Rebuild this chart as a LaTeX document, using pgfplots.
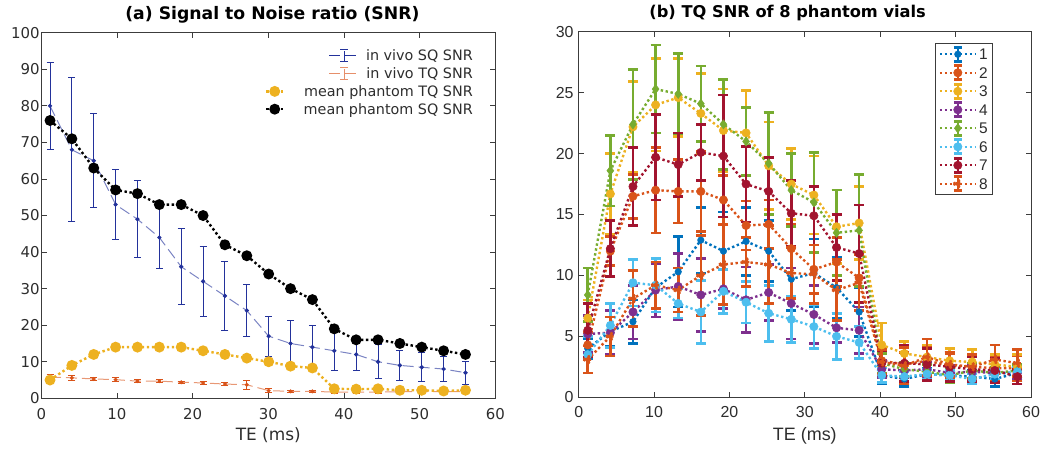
\documentclass[border=0pt]{standalone}
\usepackage{pgfplots}
\pgfplotsset{compat=1.18}
\usepackage{pgfplotstable}
\usepackage{fontspec}
\setmainfont{DejaVu Sans}
\newfontfamily\dejavu{DejaVu Sans}
\newfontfamily\arial{Liberation Sans}

\definecolor{axgray}{RGB}{60,60,60}
\definecolor{txtgray}{RGB}{45,45,45}
\definecolor{vivoblue}{RGB}{35,50,155}
\definecolor{vivoorange}{RGB}{217,83,25}
\definecolor{myyellow}{RGB}{237,177,32}
\definecolor{c1}{RGB}{0,114,189}
\definecolor{c2}{RGB}{217,83,25}
\definecolor{c3}{RGB}{237,177,32}
\definecolor{c4}{RGB}{126,47,142}
\definecolor{c5}{RGB}{119,172,48}
\definecolor{c6}{RGB}{77,190,238}
\definecolor{c7}{RGB}{162,20,47}
\definecolor{c8}{RGB}{217,83,25}

\pgfplotstableread{
x sq sqe tq tqe ptq psq
1.15 80 11.8 5.8 0.8 5.0 76
4.04 68 19.7 5.6 0.6 9.0 71
6.93 65 12.9 5.3 0.3 12.0 63
9.82 53 9.5 5.1 0.5 14.0 57
12.71 49 10.5 4.7 0.5 14.0 56
15.60 44 8.5 4.7 0.4 14.0 53
18.49 36 10.4 4.4 0.3 14.0 53
21.38 32 9.5 4.2 0.3 13.0 50
24.27 28 9.4 3.9 0.3 12.0 42
27.16 24 7.2 3.7 1.2 11.0 39
30.05 17 5.5 2.1 0.5 10.0 34
32.94 15 6.2 1.9 0.3 8.8 30
35.83 14 5.8 1.9 0.3 8.3 27
38.72 13 5.5 1.7 0.4 2.6 19
41.61 12 4.5 1.7 0.4 2.5 16
44.50 10 4.6 1.7 0.5 2.6 16
47.39 9 4.0 1.8 0.4 2.2 15
50.28 8.5 4.0 1.8 0.3 2.2 14
53.17 8 3.5 1.8 0.3 2.0 13
56.06 7 3.2 1.8 0.3 2.2 12
}\lefttab

\pgfplotstableread{
x a1 e1 a2 e2 a3 e3 a4 e4 a5 e5 a6 e6 a7 e7 a8 e8
1.2 4.0 0.8 4.3 1.0 6.5 1.5 5.2 1.5 8.4 2.2 3.5 1.5 5.5 2.2 3.1 1.1
4.2 5.4 1.2 12.0 1.2 16.7 3.3 5.3 1.8 18.6 2.9 5.9 1.8 12.2 2.3 5.0 1.6
7.2 6.2 1.8 16.5 1.8 22.2 3.7 7.0 2.2 22.4 4.5 9.4 1.9 17.3 3.2 8.1 2.3
10.2 9.0 2.0 17.0 3.5 24.0 3.8 8.8 2.2 25.3 3.6 9.2 2.2 19.7 3.5 9.2 1.9
13.2 10.3 2.9 16.9 2.6 24.6 3.2 9.1 2.7 24.9 3.3 7.7 1.2 19.1 2.6 8.8 1.8
16.2 12.9 2.7 16.9 3.3 23.3 3.3 8.4 3.0 24.1 3.1 7.0 2.6 20.1 2.3 10.0 3.3
19.2 12.0 3.2 16.2 2.0 21.9 3.4 8.9 1.6 22.4 3.7 8.7 1.8 19.8 5.0 10.9 3.3
22.2 12.8 2.8 14.1 2.0 21.7 3.5 8.0 2.7 21.0 2.8 7.8 1.7 17.5 3.1 11.1 2.0
25.2 12.0 2.5 14.2 2.0 19.0 3.6 8.6 2.3 19.2 4.2 6.9 2.3 16.9 2.8 10.9 3.2
28.2 9.7 2.6 12.2 2.0 17.5 2.9 7.7 2.9 17.0 3.0 6.4 1.9 15.1 2.7 10.2 2.1
31.2 10.2 2.8 10.5 2.0 16.6 3.2 6.8 2.4 16.0 4.1 5.8 1.8 14.9 2.4 10.1 2.4
34.2 9.0 2.5 11.1 2.0 14.0 3.0 5.7 1.2 13.5 3.5 5.0 1.9 12.3 2.7 8.8 2.5
37.2 7.0 2.0 9.8 2.0 14.3 3.0 5.5 1.9 13.7 4.6 4.5 1.3 11.8 4.0 9.4 2.3
40.2 1.8 0.7 3.0 1.0 4.3 1.8 2.3 0.7 2.8 0.8 1.8 0.6 2.8 1.0 2.9 1.0
43.2 1.5 0.6 2.7 1.0 3.6 1.0 2.2 0.6 2.3 0.6 1.7 0.4 2.8 1.5 2.6 1.5
46.2 1.9 0.5 3.0 1.2 3.3 1.0 2.3 0.6 2.1 0.6 1.9 0.4 2.7 1.3 3.3 1.5
49.2 1.8 0.5 2.6 1.0 3.0 1.0 2.0 0.6 1.8 0.6 1.8 0.4 2.5 1.2 2.7 1.0
52.2 1.7 0.5 2.5 0.9 2.9 1.0 2.1 0.5 2.2 0.6 1.5 0.4 2.3 1.0 2.5 1.0
55.2 1.5 0.6 2.4 1.0 2.7 0.8 2.0 0.5 2.0 0.5 1.9 0.4 2.2 1.0 3.1 1.2
58.2 2.0 0.6 2.4 1.0 2.5 1.0 2.0 0.5 2.2 0.5 2.1 0.4 1.7 0.6 2.8 1.1
}\righttab

\pgfplotsset{
  vial/.style={color=#1, line width=2.4bp, dash pattern=on 2.4bp off 2.6bp,
    mark=*, mark size=4.2bp, mark options={solid, fill=#1, draw=#1, line width=0.5bp},
    /pgfplots/error bars/y dir=both, /pgfplots/error bars/y explicit,
    /pgfplots/error bars/error bar style={solid, line width=2.6bp, color=#1},
    /pgfplots/error bars/error mark options={solid, rotate=90, line width=2.6bp, mark size=5bp, color=#1},
    legend image code/.code={
      \draw[solid, line width=2.6bp, color=#1] (18bp,-7bp)--(18bp,7bp) (14bp,7bp)--(22bp,7bp) (14bp,-7bp)--(22bp,-7bp);
      \draw[##1, mark repeat=2, mark phase=2] plot coordinates {(0bp,0bp)(18bp,0bp)(36bp,0bp)};
    }
  },
  myaxis/.style={scale only axis, xmin=0, xmax=60, ymin=0,
    xtick={0,10,...,60},
    axis line style={axgray, line width=0.8bp},
    tick style={axgray, line width=0.8bp}, major tick length=5.5bp,
    /pgf/number format/assume math mode=true,
  },
}

\begin{document}
\begin{tikzpicture}
\useasboundingbox (0bp,0bp) rectangle (1042bp,449bp);

% ---------------- (a)
\begin{axis}[myaxis,
  at={(41.3bp,50.7bp)}, anchor=south west, width=454bp, height=365.5bp,
  ymax=100, ytick={0,10,...,100},
  tick label style={font=\dejavu\fontsize{15}{17}\selectfont, text=txtgray},
  xticklabel style={yshift=-7bp},
  yticklabel style={inner xsep=1.5bp},
  xlabel={TE (ms)},
  xlabel style={font=\dejavu\fontsize{17}{19}\selectfont, text=txtgray, at={(axis description cs:0.5,-0.101)}, anchor=center},
  title={(a) Signal to Noise ratio (SNR)},
  title style={font=\dejavu\bfseries\fontsize{17.3}{19}\selectfont, at={(axis description cs:0.509,1)}, anchor=base, yshift=7bp},
  legend cell align=right,
  legend style={at={(axis description cs:0.953,0.962)}, anchor=north east, draw=none, fill=none, inner sep=0pt,
    font=\dejavu\fontsize{14.4}{17}\selectfont, text=txtgray, row sep=0pt,
    nodes={inner ysep=0pt, inner xsep=1bp, text height=14bp, text depth=3.8bp}},
]
\addplot[color=vivoblue!60!white, line width=1bp, dash pattern=on 11bp off 5bp,
  mark=*, mark size=1.6bp, mark options={solid, fill=vivoblue, draw=vivoblue},
  legend image code/.code={
    \path (0bp,0bp) (36bp,0bp);
    \draw[overlay, vivoblue, line width=1bp] (63bp,0bp)--(93bp,0bp) (78bp,-6bp)--(78bp,6bp) (74bp,6bp)--(82bp,6bp) (74bp,-6bp)--(82bp,-6bp);},
  error bars/.cd, y dir=both, y explicit,
  error bar style={solid, line width=1bp, color=vivoblue},
  error mark options={solid, rotate=90, line width=1bp, mark size=3.5bp, color=vivoblue}]
  table[x=x, y=sq, y error=sqe]{\lefttab};
\addlegendentry{in vivo SQ SNR}
\addplot[color=vivoorange!60!white, line width=1bp, dash pattern=on 11bp off 5bp,
  mark=*, mark size=1.4bp, mark options={solid, fill=vivoorange, draw=vivoorange},
  legend image code/.code={
    \path (0bp,0bp) (36bp,0bp);
    \draw[overlay, vivoorange!65!white, line width=1bp] (63bp,0bp)--(93bp,0bp) (78bp,-6bp)--(78bp,6bp) (74bp,6bp)--(82bp,6bp) (74bp,-6bp)--(82bp,-6bp);},
  error bars/.cd, y dir=both, y explicit,
  error bar style={solid, line width=1bp, color=vivoorange},
  error mark options={solid, rotate=90, line width=1bp, mark size=3.5bp, color=vivoorange}]
  table[x=x, y=tq, y error=tqe]{\lefttab};
\addlegendentry{in vivo TQ SNR}
\addplot[color=myyellow, line width=2.4bp, dash pattern=on 2.4bp off 2.6bp,
  mark=*, mark size=4.2bp, mark options={solid, fill=myyellow}]
  table[x=x, y=ptq]{\lefttab};
\addlegendentry{mean phantom TQ SNR}
\addplot[color=black, line width=2.4bp, dash pattern=on 2.4bp off 2.6bp,
  mark=*, mark size=4.2bp, mark options={solid, fill=black}]
  table[x=x, y=psq]{\lefttab};
\addlegendentry{mean phantom SQ SNR}
\end{axis}

% ---------------- (b)
\begin{axis}[myaxis,
  at={(578.7bp,51.7bp)}, anchor=south west, width=452.3bp, height=365.5bp,
  ymax=30, ytick={0,5,...,30},
  tick label style={font=\arial\fontsize{16}{18}\selectfont, text=txtgray},
  xticklabel style={yshift=-5.5bp},
  yticklabel style={inner xsep=5bp},
  xlabel={TE (ms)},
  xlabel style={font=\arial\fontsize{18}{20}\selectfont, text=txtgray, at={(axis description cs:0.5,-0.105)}, anchor=center},
  title={(b) TQ SNR of 8 phantom vials},
  title style={font=\dejavu\bfseries\fontsize{16.3}{18}\selectfont, at={(axis description cs:0.462,1)}, anchor=base, yshift=8bp},
  legend cell align=left,
  legend style={at={(axis description cs:0.916,0.969)}, anchor=north east, draw=axgray, line width=0.8bp, fill=white,
    inner xsep=3bp, inner ysep=1.5bp,
    font=\arial\fontsize{15.5}{17}\selectfont, text=txtgray, row sep=0pt,
    nodes={inner ysep=0pt, inner xsep=2bp, text height=14.8bp, text depth=3.7bp}},
]
\addplot[vial=c1, mark size=3.3bp] table[x=x, y=a1, y error=e1]{\righttab};
\addlegendentry{1}
\addplot[vial=c2] table[x=x, y=a2, y error=e2]{\righttab};
\addlegendentry{2}
\addplot[vial=c3] table[x=x, y=a3, y error=e3]{\righttab};
\addlegendentry{3}
\addplot[vial=c4] table[x=x, y=a4, y error=e4]{\righttab};
\addlegendentry{4}
\addplot[vial=c5, mark=diamond*, mark size=4.6bp] table[x=x, y=a5, y error=e5]{\righttab};
\addlegendentry{5}
\addplot[vial=c6] table[x=x, y=a6, y error=e6]{\righttab};
\addlegendentry{6}
\addplot[vial=c7] table[x=x, y=a7, y error=e7]{\righttab};
\addlegendentry{7}
\addplot[vial=c8, mark=triangle*, mark size=4.3bp, mark options={rotate=90}] table[x=x, y=a8, y error=e8]{\righttab};
\addlegendentry{8}
\end{axis}
\end{tikzpicture}
\end{document}
